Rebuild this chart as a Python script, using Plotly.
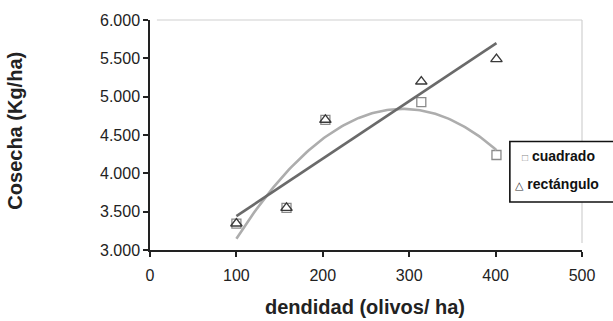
import numpy as np
import plotly.graph_objects as go

# Plantation density (trees per hectare) and harvest (kg/ha)
densidad = [100, 158, 203, 314, 401]
cosecha_cuadrado = [3345, 3549, 4698, 4928, 4239]
cosecha_rectangulo = [3345, 3549, 4698, 5197, 5490]

x_ticks = [0, 100, 200, 300, 400, 500]
y_ticks = [3000, 3500, 4000, 4500, 5000, 5500, 6000]

# Trend lines: quadratic for the square layout, linear for the rectangular one
xs = np.linspace(min(densidad), max(densidad), 120)
poly2 = np.polyfit(densidad, cosecha_cuadrado, 2)
lin1 = np.polyfit(densidad, cosecha_rectangulo, 1)

fig = go.Figure()

fig.add_trace(go.Scatter(
    x=densidad, y=cosecha_cuadrado, mode="markers", name="cuadrado",
    marker=dict(symbol="square-open", size=9, color="#8a8a8a", line=dict(width=1.3)),
))
fig.add_trace(go.Scatter(
    x=densidad, y=cosecha_rectangulo, mode="markers", name="rectángulo",
    marker=dict(symbol="triangle-up-open", size=10, color="#3a3a3a", line=dict(width=1.4)),
))
fig.add_trace(go.Scatter(
    x=xs, y=np.polyval(poly2, xs), mode="lines", showlegend=False,
    line=dict(color="#adadad", width=2.6),
))
fig.add_trace(go.Scatter(
    x=xs, y=np.polyval(lin1, xs), mode="lines", showlegend=False,
    line=dict(color="#6a6a6a", width=2.6),
))

tick_font = dict(family="Liberation Sans, Arial, sans-serif", size=16, color="#222")
title_font = dict(family="Liberation Sans, Arial, sans-serif", size=20, color="#222")
legend_font = dict(family="Liberation Sans, DejaVu Sans, sans-serif", size=14, color="#111")

fig.update_layout(
    width=613, height=321,
    margin=dict(l=150, r=31, t=15, b=71),
    paper_bgcolor="white", plot_bgcolor="white",
    separators=",.",
    showlegend=False,
    xaxis=dict(
        range=[0, 500], tickvals=x_ticks, ticks="outside", ticklen=5, tickwidth=1.5,
        tickcolor="#222", showline=True, linecolor="#222", linewidth=1.5,
        showgrid=False, zeroline=False, tickfont=tick_font, ticklabelstandoff=5,
    ),
    yaxis=dict(
        range=[3000, 6000], tickvals=y_ticks, ticks="outside", ticklen=5, tickwidth=1.5,
        tickcolor="#222", showline=True, linecolor="#222", linewidth=1.5,
        showgrid=False, zeroline=False, tickfont=tick_font,
        separatethousands=True, tickformat=",d",
    ),
    shapes=[
        # light frame on top and right of the plot area
        dict(type="line", xref="paper", yref="paper", x0=0.016, x1=1, y0=1, y1=1,
             line=dict(color="#d0d0d0", width=1.2)),
        dict(type="line", xref="paper", yref="paper", x0=1, x1=1, y0=0.03, y1=1,
             line=dict(color="#d0d0d0", width=1.2)),
        # legend box
        dict(type="rect", xref="paper", yref="paper", x0=0.833, x1=1.2, y0=0.2085, y1=0.472,
             line=dict(color="#111", width=1.6), fillcolor="white", layer="above"),
    ],
    annotations=[
        dict(text="<b>Cosecha (Kg/ha)</b>", xref="paper", yref="paper",
             x=-0.3125, y=0.519, textangle=-90, showarrow=False,
             xanchor="center", yanchor="middle", font=title_font),
        dict(text="<b>dendidad (olivos/ ha)</b>", xref="paper", yref="paper",
             x=0.498, y=-0.247, showarrow=False,
             xanchor="center", yanchor="middle", font=title_font),
        dict(text="<span style='font-size:10px;color:#888'>□</span> <b>cuadrado</b>",
             xref="paper", yref="paper", x=0.856, y=0.41, showarrow=False,
             xanchor="left", yanchor="middle", font=legend_font),
        dict(text="<span style='font-size:11px;color:#333'>△</span> <b>rectángulo</b>",
             xref="paper", yref="paper", x=0.84, y=0.285, showarrow=False,
             xanchor="left", yanchor="middle", font=legend_font),
    ],
)

fig.write_html("out.html")
